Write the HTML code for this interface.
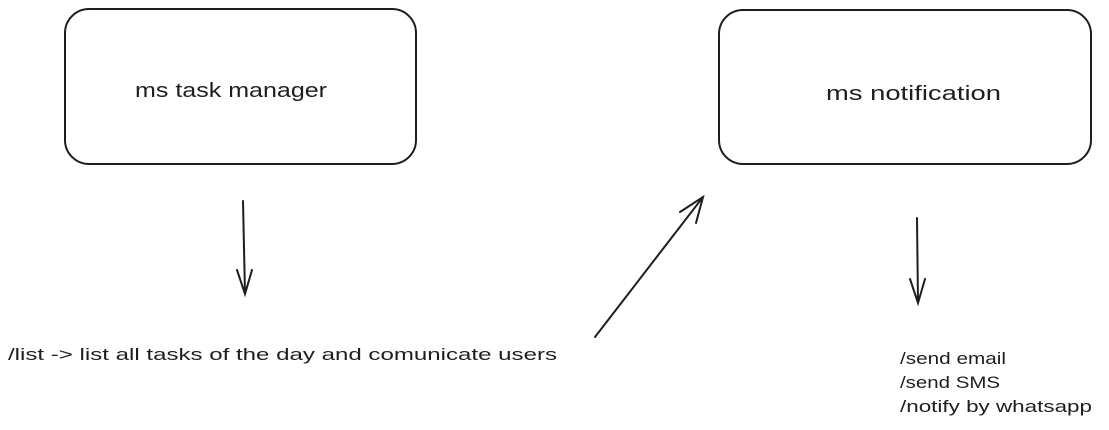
<!DOCTYPE html>
<html><head><style>
html,body{margin:0;padding:0;background:#fff;width:1109px;height:430px;overflow:hidden}
text{font-family:"Liberation Sans",sans-serif;fill:#1e1e1e}
</style></head><body>
<svg width="1109" height="430" viewBox="0 0 1109 430" xmlns="http://www.w3.org/2000/svg">
<g fill="none" stroke="#1e1e1e" stroke-width="2" stroke-linecap="round">
<rect x="65" y="9" width="351" height="155" rx="24"/>
<rect x="719" y="10" width="372" height="154" rx="24"/>
<path d="M243 201 L245 294 M237 270 L245 294 L252 270"/>
<path d="M595 337 L703 197 M680 212 L703 197 L696 223"/>
<path d="M917 218 L918 303 M910 279 L918 303 L925 279"/>
</g>
<text x="135" y="97" font-size="20" textLength="192" lengthAdjust="spacingAndGlyphs">ms task manager</text>
<text x="826" y="100" font-size="20" textLength="175" lengthAdjust="spacingAndGlyphs">ms notification</text>
<text x="8" y="360" font-size="17" textLength="549" lengthAdjust="spacingAndGlyphs">/list -&gt; list all tasks of the day and comunicate users</text>
<text x="900" y="364" font-size="17" textLength="106" lengthAdjust="spacingAndGlyphs">/send email</text>
<text x="900" y="388" font-size="17" textLength="100" lengthAdjust="spacingAndGlyphs">/send SMS</text>
<text x="900" y="412" font-size="17" textLength="192" lengthAdjust="spacingAndGlyphs">/notify by whatsapp</text>
</svg>
</body></html>
